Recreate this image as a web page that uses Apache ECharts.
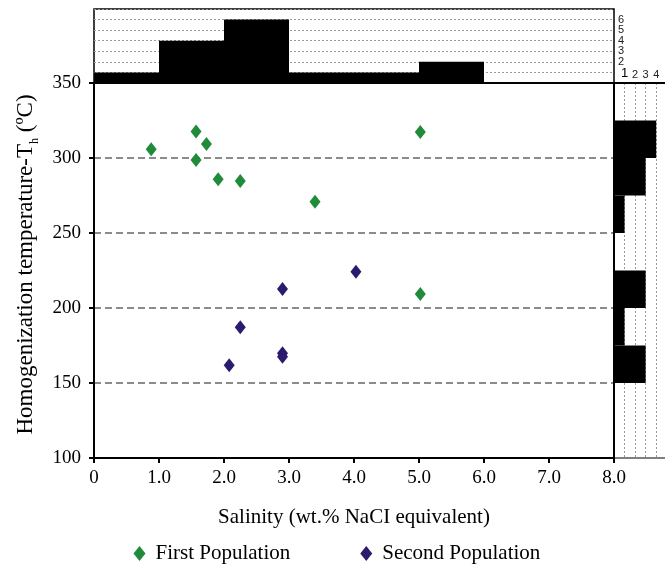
<!DOCTYPE html>
<html><head><meta charset="utf-8">
<script src="https://cdn.jsdelivr.net/npm/echarts@6/dist/echarts.min.js"></script>
<style>html,body{margin:0;padding:0;background:#fff}#c{width:665px;height:568px}</style>
</head><body><div id="c"></div>
<script>
// Salinity (wt.% NaCl eq.), Th (°C)
const firstPopulation = [[0.88,305.8],[1.57,317.6],[1.73,309.3],[1.57,298.7],[1.91,285.8],[2.25,284.7],[3.40,270.9],[5.02,317.3],[5.02,209.3]];
const secondPopulation = [[4.03,224.2],[2.90,212.7],[2.25,187.1],[2.90,169.8],[2.90,167.5],[2.08,161.8]];
const salinityBins = ['0-1','1-2','2-3','3-4','4-5','5-6','6-7','7-8'];
const salinityCounts = [1,4,6,1,1,2,0,0];
const tempBins = ['100-125','125-150','150-175','175-200','200-225','225-250','250-275','275-300','300-325','325-350'];
const tempCounts = [0,0,3,1,3,0,1,3,4,0];
const topHistLabels = [2,3,4,5,6];
const rightHistLabels = [1,2,3,4];

const serif = "'Liberation Serif','DejaVu Serif',serif";
const sans = "'Liberation Sans',Arial,sans-serif";
const chart = echarts.init(document.getElementById('c'));
chart.setOption({
  animation: false,
  backgroundColor: '#fff',
  grid: [
    {left: 94, top: 83, width: 520, height: 375, show: true, borderColor: '#000', borderWidth: 2, backgroundColor: 'transparent', z: 3, outerBoundsMode: 'none', containLabel: false},
    {left: 94, top: 9, width: 520, height: 74, show: true, borderColor: '#000', borderWidth: 1.5, backgroundColor: 'transparent', outerBoundsMode: 'none', containLabel: false},
    {left: 614, top: 83, width: 51, height: 375, show: false, outerBoundsMode: 'none', containLabel: false}
  ],
  legend: {
    data: ['First Population', 'Second Population'],
    left: 133.5, top: 543, padding: 0, icon: 'diamond', itemWidth: 12, itemHeight: 15, itemGap: 70,
    textStyle: {fontFamily: serif, fontSize: 21, color: '#000', padding: [0,0,0,5]}
  },
  xAxis: [
    {gridIndex: 0, type: 'value', min: 0, max: 8, interval: 1,
     axisLine: {lineStyle: {color: '#000', width: 2}},
     axisTick: {show: true, length: 5, lineStyle: {color: '#000', width: 2}},
     axisLabel: {fontFamily: serif, fontSize: 19, color: '#000', margin: 11, formatter: v => v === 0 ? '0' : v.toFixed(1)},
     splitLine: {show: false},
     name: 'Salinity (wt.% NaCI equivalent)', nameLocation: 'middle', nameGap: 49,
     nameTextStyle: {fontFamily: serif, fontSize: 21, color: '#000'}},
    {gridIndex: 1, type: 'category', data: salinityBins, boundaryGap: true,
     axisLine: {show: false}, axisTick: {show: false}, axisLabel: {show: false}, splitLine: {show: false}},
    {gridIndex: 2, type: 'value', min: 0, max: 51 / 10.55, interval: 1, position: 'top',
     axisLine: {show: true, lineStyle: {color: '#000', width: 2}}, axisTick: {show: false},
     axisLabel: {margin: 3, fontFamily: sans, color: '#000',
       formatter: v => rightHistLabels.indexOf(v) < 0 ? '' : (v === 1 ? '{b|1}' : '{n|' + v + '}'),
       rich: {b: {fontSize: 13, fontFamily: sans, color: '#000'}, n: {fontSize: 11, fontFamily: sans, color: '#222'}}},
     splitLine: {show: true, lineStyle: {color: '#999', width: 1, type: [2, 2]}}},
    {gridIndex: 2, type: 'value', min: 0, max: 51 / 10.55, position: 'bottom',
     axisLine: {show: true, lineStyle: {color: '#555', width: 1.5}}, axisTick: {show: false},
     axisLabel: {show: false}, splitLine: {show: false}}
  ],
  yAxis: [
    {gridIndex: 0, type: 'value', min: 100, max: 350, interval: 50,
     axisLine: {lineStyle: {color: '#000', width: 2}},
     axisTick: {show: true, length: 5, lineStyle: {color: '#000', width: 2}},
     axisLabel: {fontFamily: serif, fontSize: 19, color: '#000', margin: 13},
     splitLine: {show: true, lineStyle: {color: '#666', width: 1.5, type: [7, 4]}},
     name: '{n|Homogenization temperature-T}{s|h}{n| (ºC)}', nameLocation: 'middle', nameGap: 53,
     nameTextStyle: {fontFamily: serif, fontSize: 23, color: '#000', padding: [0, 0, 0, 12],
       rich: {n: {fontFamily: serif, fontSize: 23, color: '#000', lineHeight: 30, verticalAlign: 'middle'},
              s: {fontFamily: serif, fontSize: 12, color: '#000', verticalAlign: 'bottom', lineHeight: 30}}}},
    {gridIndex: 1, type: 'value', min: 0, max: 7, interval: 1, position: 'right',
     axisLine: {show: false}, axisTick: {show: false},
     axisLabel: {margin: 4, fontFamily: sans, fontSize: 11, color: '#222', formatter: v => topHistLabels.indexOf(v) < 0 ? '' : String(v)},
     splitLine: {show: true, lineStyle: {color: '#999', width: 1, type: [2, 2]}}},
    {gridIndex: 2, type: 'category', data: tempBins, boundaryGap: true,
     axisLine: {show: false}, axisTick: {show: false}, axisLabel: {show: false}, splitLine: {show: false}}
  ],
  series: [
    {name: 'First Population', type: 'scatter', xAxisIndex: 0, yAxisIndex: 0, data: firstPopulation,
     symbol: 'diamond', symbolSize: [11, 14], itemStyle: {color: '#1f8b3b', opacity: 1}, z: 5},
    {name: 'Second Population', type: 'scatter', xAxisIndex: 0, yAxisIndex: 0, data: secondPopulation,
     symbol: 'diamond', symbolSize: [11, 14], itemStyle: {color: '#2c1a6e', opacity: 1}, z: 5},
    {type: 'bar', xAxisIndex: 1, yAxisIndex: 1, data: salinityCounts, barCategoryGap: '0%',
     itemStyle: {color: '#000'}, silent: true},
    {type: 'bar', xAxisIndex: 2, yAxisIndex: 2, data: tempCounts, barCategoryGap: '0%',
     itemStyle: {color: '#000'}, silent: true}
  ]
});
</script></body></html>
